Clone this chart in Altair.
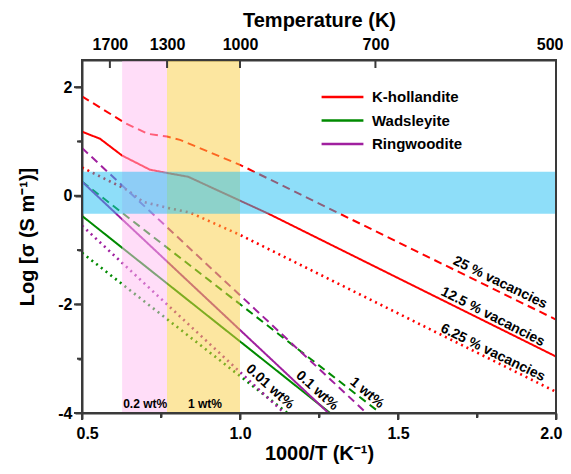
import altair as alt
import pandas as pd

FONT = "Liberation Sans"
INK = "#000000"
FRAME_INK = "#3A3A3A"

# ---------------- data ----------------
minerals = ["K-hollandite", "Wadsleyite", "Ringwoodite"]
mineral_colors = ["#FF0000", "#008A00", "#A0209F"]
styles = ["solid", "dashed", "dotted"]

# K-hollandite (25 %, 12.5 %, 6.25 % vacancies)
kh_dash_x = [0.5, 0.639, 0.709, 0.769, 0.81, 1.0, 2.0]
kh_dash_y = [1.83, 1.33, 1.14, 1.09, 1.03, 0.57, -2.28]
kh_solid_x = [0.5, 0.557, 0.627, 0.715, 0.769, 0.836, 1.0, 1.09, 2.0]
kh_solid_y = [1.18, 1.05, 0.74, 0.48, 0.42, 0.35, -0.09, -0.33, -2.96]
kh_dot_x = [0.5, 0.642, 0.693, 0.769, 0.842, 1.0, 2.0]
kh_dot_y = [0.52, 0.11, -0.11, -0.22, -0.31, -0.72, -3.61]

# Wadsleyite (1, 0.1, 0.01 wt%)
wd_dash_x = [0.5, 1.444]
wd_dash_y = [0.26, -4.0]
wd_solid_x = [0.5, 1.285]
wd_solid_y = [-0.37, -4.0]
wd_dot_x = [0.5, 1.15]
wd_dot_y = [-1.05, -4.0]

# Ringwoodite (1, 0.1, 0.01 wt%)
rw_dash_x = [0.5, 1.40]
rw_dash_y = [0.88, -4.0]
rw_solid_x = [0.5, 1.28]
rw_solid_y = [0.26, -4.0]
rw_dot_x = [0.5, 1.14]
rw_dot_y = [-0.55, -4.0]

series = [
    ("K-hollandite", "dashed", kh_dash_x, kh_dash_y),
    ("K-hollandite", "solid", kh_solid_x, kh_solid_y),
    ("K-hollandite", "dotted", kh_dot_x, kh_dot_y),
    ("Wadsleyite", "dashed", wd_dash_x, wd_dash_y),
    ("Wadsleyite", "solid", wd_solid_x, wd_solid_y),
    ("Wadsleyite", "dotted", wd_dot_x, wd_dot_y),
    ("Ringwoodite", "dashed", rw_dash_x, rw_dash_y),
    ("Ringwoodite", "solid", rw_solid_x, rw_solid_y),
    ("Ringwoodite", "dotted", rw_dot_x, rw_dot_y),
]

# shaded regions
band_x0 = [0.627, 0.769, 0.5]
band_x1 = [0.769, 1.0, 2.0]
band_y0 = [-4.0, -4.0, -0.33]
band_y1 = [2.5, 2.5, 0.44]
band_fill = ["#FFBBF1", "#F9CD41", "#1DBDF3"]

# annotations
label_text = ["25 % vacancies", "12.5 % vacancies", "6.25 % vacancies",
              "0.01 wt%", "0.1 wt%", "1 wt%", "0.2 wt%", "1 wt%"]
label_x = [1.823, 1.80, 1.80, 1.095, 1.244, 1.402, 0.70, 0.889]
label_y = [-1.60, -2.23, -2.89, -3.52, -3.59, -3.63, -3.83, -3.83]
label_angle = [26, 27, 26, 42, 42, 40, 0, 0]
label_size = [14, 14, 14, 14, 14, 14, 12, 12]

# axes
x_domain = [0.5, 2.0]
y_domain = [-4, 2.5]
x_major = [0.5, 1.0, 1.5, 2.0]
x_minor = [0.75, 1.25, 1.75]
y_major = [-4, -2, 0, 2]
y_minor = [-3, -1, 1]
x_ticks = sorted(x_major + x_minor)
y_ticks = sorted(y_major + y_minor)
temps = [1700, 1300, 1000, 700, 500]
temp_pos = [1000.0 / t for t in temps]

PLOT_W, PLOT_H = 474, 353

# ---------------- frames ----------------
rows = []
for i, (m, s, xs, ys) in enumerate(series):
    for xv, yv in zip(xs, ys):
        rows.append({"mineral": m, "style": s, "series": i, "x": xv, "y": yv,
                     "sw": 2.6 if s == "dotted" else 2.0})
lines_df = pd.DataFrame(rows)

bands_df = pd.DataFrame({"x0": band_x0, "x1": band_x1, "y0": band_y0,
                         "y1": band_y1, "fill": band_fill, "order": [0, 1, 2]})
labels_df = pd.DataFrame({"label": label_text, "x": label_x, "y": label_y,
                          "angle": label_angle, "size": label_size})

# frame and tick marks as thin filled rectangles (pixel sizes -> data units)
px_x = (x_domain[1] - x_domain[0]) / PLOT_W
px_y = (y_domain[1] - y_domain[0]) / PLOT_H
x0, x1 = x_domain
y0, y1 = y_domain
rect_rows = []


def add_rect(a, b, c, d):
    rect_rows.append({"xa": a, "xb": b, "ya": c, "yb": d})


# frame, 2 px thick
add_rect(x0 - px_x, x1 + px_x, y0 - px_y, y0 + px_y)
add_rect(x0 - px_x, x1 + px_x, y1 - px_y, y1 + px_y)
add_rect(x0 - px_x, x0 + px_x, y0 - px_y, y1 + px_y)
add_rect(x1 - px_x, x1 + px_x, y0 - px_y, y1 + px_y)
# bottom ticks (outward)
for v in x_major:
    add_rect(v - px_x, v + px_x, y0 - 7 * px_y, y0)
for v in x_minor:
    add_rect(v - px_x, v + px_x, y0 - 5 * px_y, y0)
# left ticks (outward)
for v in y_major:
    add_rect(x0 - 8 * px_x, x0, v - px_y, v + px_y)
for v in y_minor:
    add_rect(x0 - 5 * px_x, x0, v - px_y, v + px_y)
# top ticks (inward)
for v in temp_pos[:-1]:
    add_rect(v - px_x, v + px_x, y1 - 8 * px_y, y1)
rects_df = pd.DataFrame(rect_rows)

x_scale = alt.Scale(domain=x_domain, nice=False, zero=False)
y_scale = alt.Scale(domain=y_domain, nice=False, zero=False)

common_axis = dict(domain=True, domainColor=FRAME_INK, domainWidth=2,
                   tickColor=FRAME_INK, tickWidth=2,
                   labelFont=FONT, labelFontWeight="bold", labelFontSize=16, labelColor=INK,
                   titleFont=FONT, titleFontWeight="bold", titleFontSize=20, titleColor=INK,
                   grid=False)

bottom_axis = alt.Axis(
    orient="bottom", values=x_ticks, title="1000/T (K⁻¹)", ticks=True,
    labelExpr="round(datum.value*4) % 2 == 0 ? format(datum.value, '.1f') : ''",
    tickSize={"condition": {"test": "round(datum.value*4) % 2 == 0", "value": 6}, "value": 4},
    labelPadding=6, titlePadding=2, labelFlush=True, labelFlushOffset=6,
    labelOverlap=False, **common_axis)

left_axis = alt.Axis(
    orient="left", values=y_ticks, title="Log [σ (S m⁻¹)]", ticks=True,
    labelExpr="datum.value % 2 == 0 ? '' + datum.value : ''",
    tickSize={"condition": {"test": "datum.value % 2 == 0", "value": 7}, "value": 4},
    labelPadding=3, titlePadding=20, labelFlush=False, labelOverlap=False, **common_axis)

top_axis = alt.Axis(
    orient="top", values=temp_pos, title="Temperature (K)",
    labelExpr="format(1000/datum.value, '.0f')", ticks=False, tickSize=0,
    labelPadding=8, titlePadding=6, labelFlush=True, labelFlushOffset=7,
    labelOverlap=False, **common_axis)

lines = alt.Chart(lines_df).mark_line(clip=True).encode(
    x=alt.X("x:Q", scale=x_scale, axis=bottom_axis),
    y=alt.Y("y:Q", scale=y_scale, axis=left_axis),
    color=alt.Color("mineral:N", scale=alt.Scale(domain=minerals, range=mineral_colors),
                    legend=alt.Legend(orient="none", legendX=253, legendY=29.5, title=None,
                                      symbolType="M-5,0H5", symbolSize=70, symbolStrokeWidth=2.5,
                                      labelFont=FONT, labelFontWeight="bold", labelFontSize=15,
                                      labelColor=INK, labelOffset=22, rowPadding=7.5,
                                      padding=0)),
    strokeDash=alt.StrokeDash("style:N", scale=alt.Scale(domain=styles,
                              range=[[1, 0], [8, 5], [2, 4]]), legend=None),
    strokeWidth=alt.StrokeWidth("sw:Q", scale=None),
    detail="series:N",
)

bands = alt.Chart(bands_df).mark_rect(opacity=0.5).encode(
    x=alt.X("x0:Q", scale=x_scale, axis=top_axis),
    x2="x1:Q",
    y=alt.Y("y0:Q", scale=y_scale, axis=None),
    y2="y1:Q",
    fill=alt.Fill("fill:N", scale=None),
    order="order:Q",
)

texts = alt.Chart(labels_df).mark_text(font=FONT, fontWeight="bold", color=INK).encode(
    x=alt.X("x:Q", scale=x_scale, axis=None),
    y=alt.Y("y:Q", scale=y_scale, axis=None),
    text="label:N",
    angle=alt.Angle("angle:Q", scale=None),
    size=alt.Size("size:Q", scale=None),
)

frame = alt.Chart(rects_df).mark_rect(opacity=1).encode(
    x=alt.X("xa:Q", scale=x_scale, axis=None),
    x2="xb:Q",
    y=alt.Y("ya:Q", scale=y_scale, axis=None),
    y2="yb:Q",
    fill=alt.value(FRAME_INK),
)

chart = alt.layer(lines, bands, texts, frame).resolve_axis(
    x="independent", y="independent"
).properties(
    width=PLOT_W, height=PLOT_H,
    autosize=alt.AutoSizeParams(type="none"),
    padding={"left": 74, "top": 52, "right": 7, "bottom": 53},
).configure_view(stroke=FRAME_INK, strokeWidth=2)

chart.save("out.html", embed_options={"renderer": "svg", "actions": False})
